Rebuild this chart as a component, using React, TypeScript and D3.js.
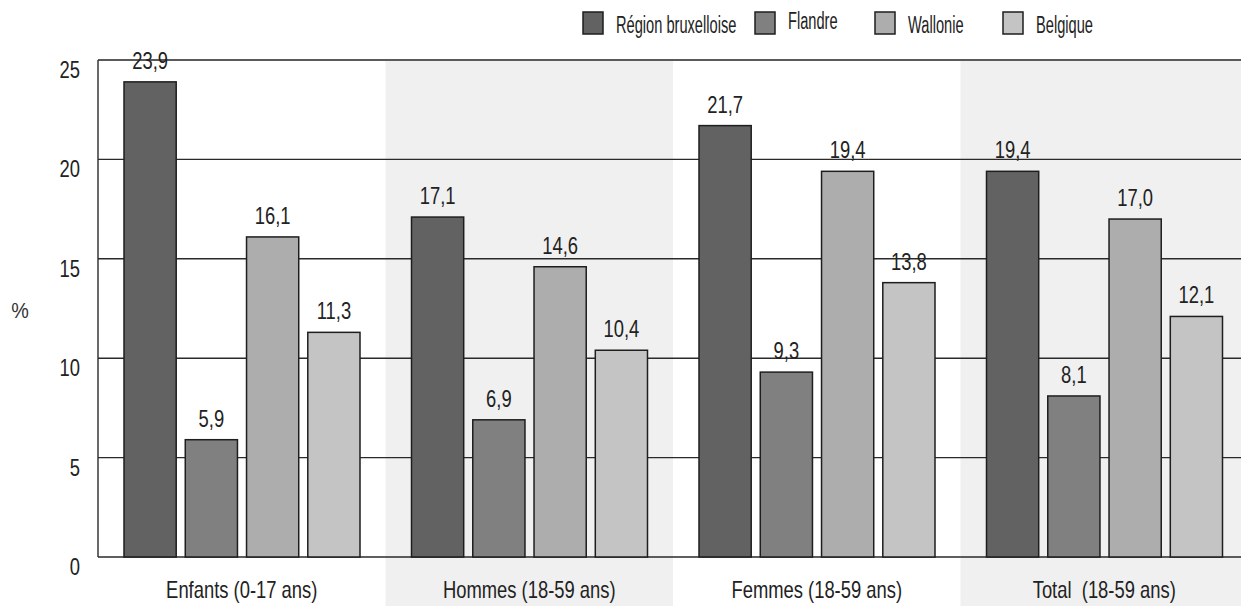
import React from "react";
import * as d3 from "d3";

const categories = ["Enfants (0-17 ans)", "Hommes (18-59 ans)", "Femmes (18-59 ans)", "Total  (18-59 ans)"];
const series = ["Région bruxelloise", "Flandre", "Wallonie", "Belgique"];
const bruxelles = [23.9, 17.1, 21.7, 19.4];
const flandre = [5.9, 6.9, 9.3, 8.1];
const wallonie = [16.1, 14.6, 19.4, 17.0];
const belgique = [11.3, 10.4, 13.8, 12.1];
const yTicks = [0, 5, 10, 15, 20, 25];
const yLabel = "%";

const seriesValues = [bruxelles, flandre, wallonie, belgique];
const colors = ["#626262", "#808080", "#adadad", "#c4c4c4"];
const FONT = "'Liberation Sans', Arial, sans-serif";

const W = 1246, H = 606;
const left = 98, right = 1241, top = 60, bottom = 557;

type TProps = { x: number; y: number; anchor?: "start" | "middle" | "end"; size: number; sx?: number; fill?: string; children: React.ReactNode };
function T({ x, y, anchor = "start", size, sx = 0.8, fill = "#222", children }: TProps) {
  return (
    <text transform={`translate(${x},${y}) scale(${sx},1)`} textAnchor={anchor} fontSize={size} fill={fill} style={{ whiteSpace: "pre" }}>
      {children}
    </text>
  );
}

export default function App() {
  const x0 = d3.scaleBand<string>().domain(categories).range([left, 1248]).paddingInner(0).paddingOuter(0);
  const x1 = d3.scaleBand<string>().domain(series).range([26, 262]).paddingInner(0.148).paddingOuter(0);
  const y = d3.scaleLinear().domain([0, 25]).range([bottom, top]);
  const fmt = (v: number) => v.toFixed(1).replace(".", ",");
  const legendX = [583, 755, 875, 1003];

  return (
    <svg width={W} height={H} style={{ position: "absolute", left: 0, top: 0, background: "#fff" }} fontFamily={FONT}>
      {categories.map((c, i) =>
        i % 2 === 1 ? (
          <rect key={c} x={x0(c)!} y={top} width={Math.min(x0.bandwidth(), right - x0(c)!)} height={H - top} fill="#f0f0f0" />
        ) : null
      )}
      {yTicks.map((t) => (
        <line key={t} x1={left} x2={right} y1={y(t)} y2={y(t)}
          stroke={t === 25 ? "#5a5a5a" : "#2a2a2a"} strokeWidth={t === 25 ? 2 : 1.4} />
      ))}
      <line x1={left} x2={left} y1={top} y2={bottom} stroke="#2a2a2a" strokeWidth={1.4} />
      {yTicks.map((t) => (
        <T key={"l" + t} x={80} y={y(t) + 18} anchor="end" size={23}>{t}</T>
      ))}
      <T x={20} y={318} anchor="middle" size={22} sx={0.9} fill="#333">{yLabel}</T>
      {categories.map((c, ci) => (
        <g key={c} transform={`translate(${x0(c)},0)`}>
          {series.map((s, si) => {
            const v = seriesValues[si][ci];
            const bx = x1(s)!;
            return (
              <g key={s}>
                <rect x={bx} y={y(v)} width={x1.bandwidth()} height={bottom - y(v)} fill={colors[si]} stroke="#1e1e1e" strokeWidth={1.5} />
                <T x={bx + x1.bandwidth() / 2} y={y(v) - 13} anchor="middle" size={23}>{fmt(v)}</T>
              </g>
            );
          })}
          <T x={x0.bandwidth() / 2} y={598} anchor="middle" size={23}>{c}</T>
        </g>
      ))}
      {series.map((s, i) => (
        <g key={s}>
          <rect x={legendX[i]} y={12} width={20} height={22} fill={colors[i]} stroke="#1e1e1e" strokeWidth={1.5} />
          <T x={legendX[i] + 33} y={i === 1 ? 29 : 33} size={24} sx={0.61}>{s}</T>
        </g>
      ))}
    </svg>
  );
}
